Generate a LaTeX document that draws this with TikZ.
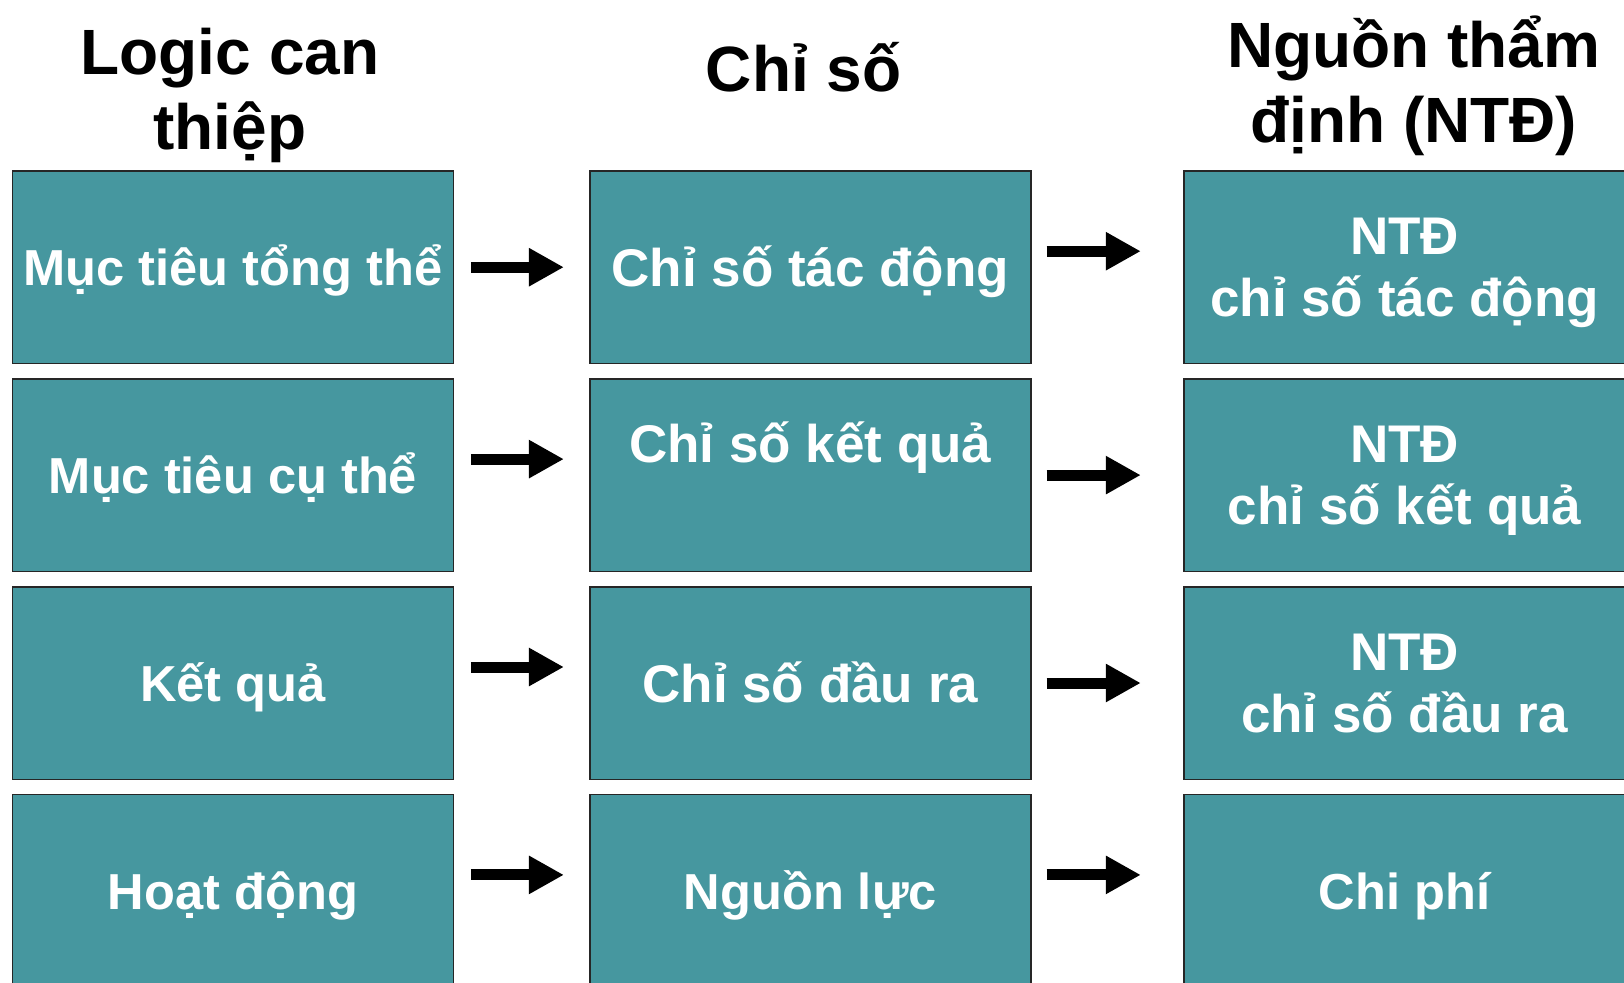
\documentclass[tikz,border=0pt]{standalone}
\usepackage{fontspec}
\setmainfont{Liberation Sans}
\usetikzlibrary{arrows.meta}
\definecolor{tealbox}{RGB}{70,151,159}
\newcommand{\tstrut}{\rule{0pt}{0.97em}}

\begin{document}
\begin{tikzpicture}[x=0.5pt, y=-0.5pt]
\tikzset{box/.style={draw=black!85, line width=0.8pt, fill=tealbox, minimum width=220.6pt, minimum height=96.3pt, inner sep=0pt, align=center, text=white, font=\fontsize{26.5}{31}\selectfont\bfseries,
    execute at begin node={\rule{0pt}{1em}}, execute at end node={\rule[-0.27em]{0pt}{0.27em}}},
  boxs/.style={box, font=\fontsize{25.3}{31}\selectfont\bfseries},
  head/.style={align=center, font=\fontsize{32}{37.3}\selectfont\bfseries},
  blk/.style={line width=5.5pt, -{Triangle[length=17.5pt,width=18pt]}}}
\clip (0,0) rectangle (1624,982);
%\draw[help lines] (0,0) grid (1624,982);

\node[head, anchor=base] (h1) at (230,149) {Logic can\\thiệp} ;
\node[head, anchor=base] (h2) at (803.7,91) {Chỉ số} ;
\node[head, anchor=base] (h3) at (1413.8,142) {Nguồn thẩm\\định (NTĐ)} ;

\node[boxs] (a1) at (233,267.2) {Mục tiêu tổng thể} ;
\node[box] (b1) at (810.3,267.2) {Chỉ số tác động} ;
\node[box] (c1) at (1404.6,267.2) {\tstrut NTĐ\\chỉ số tác động} ;

\node[boxs] (a2) at (233,475.1) {Mục tiêu cụ thể} ;
\node[box] (b2) at (810.3,475.1) {\tstrut Chỉ số kết quả\\~} ;
\node[box] (c2) at (1404.6,475.1) {\tstrut NTĐ\\chỉ số kết quả} ;

\node[boxs] (a3) at (233,683) {Kết quả} ;
\node[box] (b3) at (810.3,683) {Chỉ số đầu ra} ;
\node[box] (c3) at (1404.6,683) {\tstrut NTĐ\\chỉ số đầu ra} ;

\node[boxs] (a4) at (233,890.9) {Hoạt động} ;
\node[boxs] (b4) at (810.3,890.9) {Nguồn lực} ;
\node[boxs] (c4) at (1404.6,890.9) {Chi phí} ;

\draw[blk, shorten <=8.2pt, shorten >=12.5pt] (a1.east) to (b1.west);
\draw[blk, shorten <=7.5pt, shorten >=21.2pt] ([yshift=8pt]b1.east) to ([yshift=8pt]c1.west);
\draw[blk, shorten <=8.2pt, shorten >=12.5pt] ([yshift=8pt]a2.east) to ([yshift=8pt]b2.west);
\draw[blk, shorten <=7.5pt, shorten >=21.2pt] (b2.east) to (c2.west);
\draw[blk, shorten <=8.2pt, shorten >=12.5pt] ([yshift=8pt]a3.east) to ([yshift=8pt]b3.west);
\draw[blk, shorten <=7.5pt, shorten >=21.2pt] (b3.east) to (c3.west);
\draw[blk, shorten <=8.2pt, shorten >=12.5pt] ([yshift=8pt]a4.east) to ([yshift=8pt]b4.west);
\draw[blk, shorten <=7.5pt, shorten >=21.2pt] ([yshift=8pt]b4.east) to ([yshift=8pt]c4.west);
\end{tikzpicture}
\end{document}
